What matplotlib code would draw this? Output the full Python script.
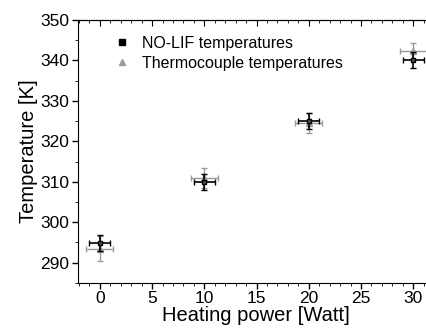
import matplotlib.pyplot as plt
import numpy as np

plt.rcParams['font.family'] = ['Liberation Sans', 'DejaVu Sans']

power = [0, 10, 20, 30]
lif_temp = [294.8, 310.0, 325.0, 340.2]
lif_xerr = [1.0, 1.0, 1.0, 1.0]
lif_yerr = [2.0, 2.0, 2.0, 2.0]

thermo_temp = [293.5, 311.0, 324.5, 342.3]
thermo_xerr = [1.3, 1.3, 1.3, 1.3]
thermo_yerr = [3.0, 2.5, 2.5, 2.0]

fig = plt.figure(figsize=(4.26, 3.34), dpi=100)
ax = fig.add_axes([0.183, 0.153, 0.836, 0.787])

ax.errorbar(power, thermo_temp, xerr=thermo_xerr, yerr=thermo_yerr, fmt='^',
            color='#9a9a9a', ms=4, capsize=2, elinewidth=1,
            zorder=2)
ax.errorbar(power, lif_temp, xerr=lif_xerr, yerr=lif_yerr, fmt='s',
            color='black', ms=3.5, capsize=2, elinewidth=1.2,
            mfc='#555555', zorder=3)

ax.set_xlim(-2.1, 32)
ax.set_ylim(285, 350)
ax.set_xticks([0, 5, 10, 15, 20, 25, 30])
ax.set_xticks(np.arange(-2, 32, 1), minor=True)
ax.set_yticks([290, 300, 310, 320, 330, 340, 350])
ax.set_yticks(np.arange(285, 351, 5), minor=True)

ax.spines['right'].set_visible(False)
ax.tick_params(axis='both', which='major', direction='out', length=4,
               labelsize=12.5, width=1, pad=2)
ax.tick_params(axis='both', which='minor', direction='out', length=2)

# top axis: ticks pointing inward, no labels
top = ax.secondary_xaxis('top')
top.set_xticks([0, 5, 10, 15, 20, 25, 30])
top.set_xticks(np.arange(-2, 32, 1), minor=True)
top.tick_params(which='major', direction='in', length=4, labeltop=False)
top.tick_params(which='minor', direction='in', length=2)

ax.set_xlabel('Heating power [Watt]', fontsize=14.5, labelpad=0)
ax.set_ylabel('Temperature [K]', fontsize=14.5, labelpad=2)

h1 = plt.Line2D([], [], marker='s', ls='none', color='black', ms=4)
h2 = plt.Line2D([], [], marker='^', ls='none', color='#9a9a9a', ms=5)
ax.legend([h1, h2], ['NO-LIF temperatures', 'Thermocouple temperatures'],
          loc='upper left', frameon=False, fontsize=11.5,
          bbox_to_anchor=(0.06, 0.995), handletextpad=0.8, labelspacing=0.3,
          handlelength=1)

fig.savefig('out.png', dpi=100)
